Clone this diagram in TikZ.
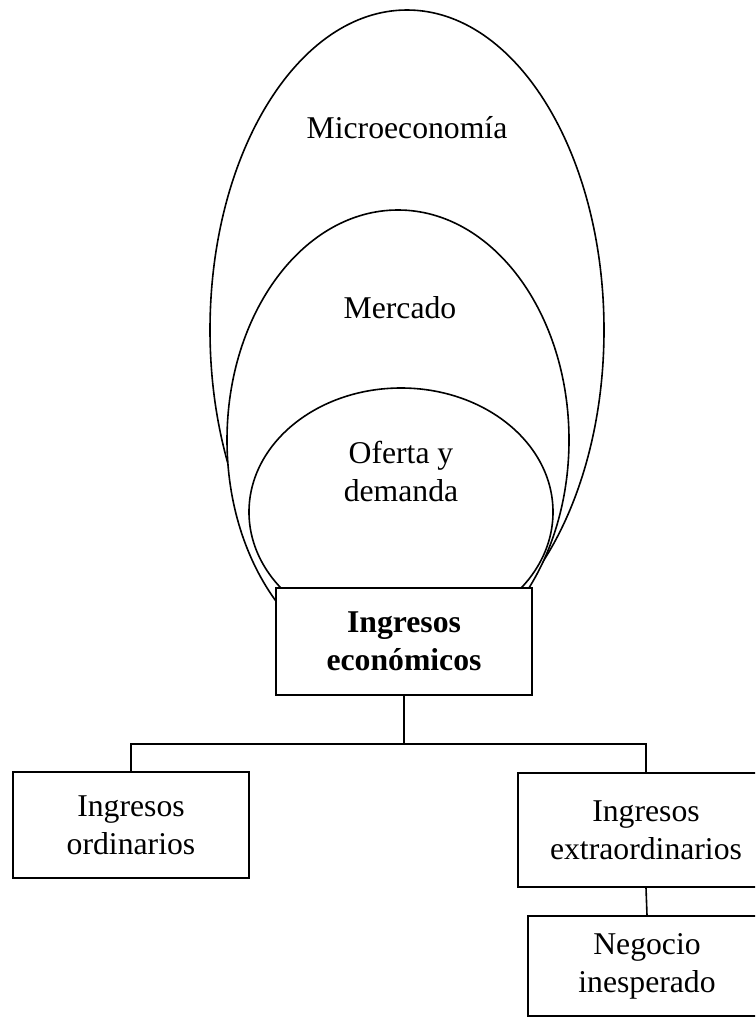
\documentclass[tikz,border=0pt]{standalone}
\usepackage{fontspec}
\setmainfont{Liberation Serif}
\begin{document}
\begin{tikzpicture}[x=1pt,y=-1pt,line width=1.6pt,
  lbl/.style={font=\fontsize{31.7}{38}\selectfont,align=center,inner sep=0pt},
  box/.style={draw,fill=white,align=center,inner sep=0pt,
    font=\fontsize{31.7}{38}\selectfont},
  oval/.style={draw,fill=white}]
\useasboundingbox (0,0) rectangle (755,1017);
\clip (0,0) rectangle (755,1017);

% nested scopes, outermost first so the inner ones cover it
\draw[oval] (407,330) ellipse [x radius=197pt,y radius=320pt];
\draw[oval] (398,440) ellipse [x radius=171pt,y radius=230pt];
\draw[oval] (401,512) ellipse [x radius=152pt,y radius=124pt];

\node[lbl] (micro) at (407,128) {Microeconomía};
\node[lbl] (merc) at (400,308) {Mercado};
\node[lbl] (oferta) at (401,471) {Oferta y\\demanda};

% classification of income
\node[box,minimum width=256pt,minimum height=107pt] (ing) at (404,641.5)
  {\bfseries Ingresos\\\bfseries económicos};
\node[box,minimum width=236pt,minimum height=106pt] (ord) at (131,825)
  {Ingresos\\ordinarios};
\node[box,minimum width=256pt,minimum height=114pt] (ext) at (646,830)
  {Ingresos\\extraordinarios};
\node[box,minimum width=238pt,minimum height=100pt] (neg) at (647,966)
  {Negocio\\inesperado};

\coordinate (j) at (404,744);
\draw (ing.south) -- (j);
\draw (ord.north) |- (j) -| (ext.north);
\draw (ext.south) -- (neg.north);
\end{tikzpicture}
\end{document}
